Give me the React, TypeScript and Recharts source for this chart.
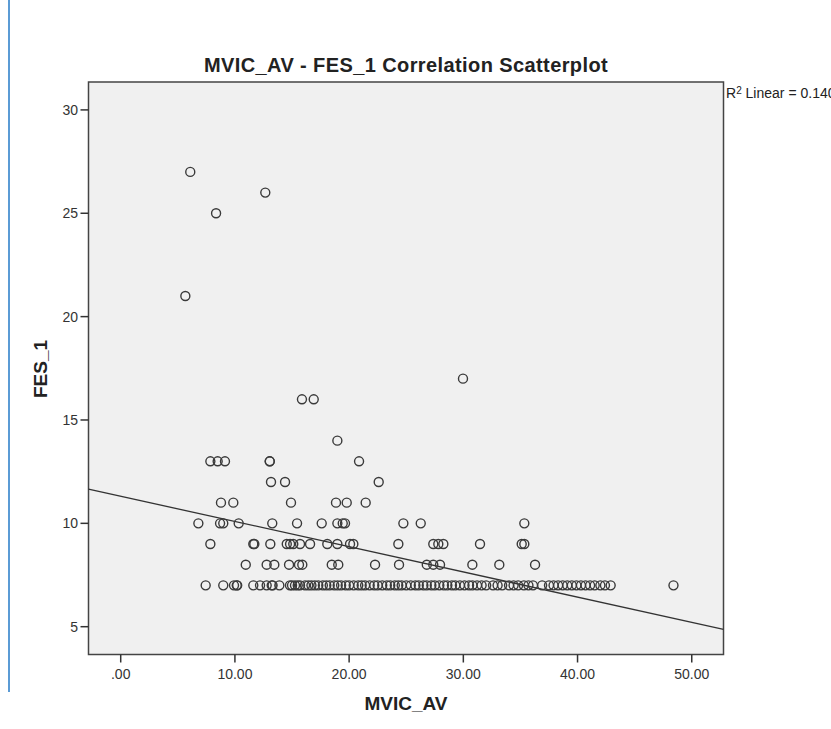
import * as React from "react"
import {
    ScatterChart,
    Scatter,
    XAxis,
    YAxis,
    ReferenceArea,
    ReferenceLine,
} from "recharts"

// MVIC_AV values for each FES_1 level
const fes27 = [6.09]
const fes26 = [12.66]
const fes25 = [8.35]
const fes21 = [5.66]
const fes17 = [29.97]
const fes16 = [15.87, 16.9]
const fes14 = [18.97]
const fes13 = [7.85, 8.49, 9.13, 13.05, 13.05, 20.87]
const fes12 = [13.16, 14.39, 22.59]
const fes11 = [8.78, 9.86, 14.91, 18.85, 19.79, 21.45]
const fes10 = [6.8, 8.7, 8.98, 10.33, 13.27, 15.44, 17.6, 18.97, 19.44, 19.64, 24.75, 26.27, 35.34]
const fes9 = [
    7.85, 11.61, 11.7, 13.1, 14.54, 14.83, 15.11, 15.7, 16.58, 18.09, 18.97, 20.08, 20.37,
    24.31, 27.37, 27.81, 28.25, 31.46, 35.11, 35.34,
]
const fes8 = [
    10.95, 12.78, 13.45, 14.74, 15.61, 15.9, 18.48, 19.05, 22.27, 24.37, 26.8, 27.37, 27.96,
    30.79, 33.15, 36.28,
]
const fes7 = [
    7.44, 8.98, 9.92, 10.16, 10.2, 11.61, 12.2, 12.78, 13.22, 13.3, 13.89, 14.82, 15.0, 15.26,
    15.5, 15.7, 16.14, 16.43, 16.7, 17.0, 17.3, 17.7, 18.0, 18.3, 18.7, 19.0, 19.3, 19.7, 20.0,
    20.4, 20.8, 21.1, 21.4, 21.8, 22.2, 22.5, 22.9, 23.3, 23.6, 24.0, 24.3, 24.6, 25.0, 25.4,
    25.8, 26.1, 26.5, 26.8, 27.2, 27.5, 27.9, 28.3, 28.6, 29.0, 29.3, 29.7, 30.1, 30.5, 30.8,
    31.2, 31.6, 32.0, 32.6, 33.0, 33.4, 34.0, 34.4, 34.8, 35.3, 35.7, 36.1, 36.9, 37.5, 37.9,
    38.3, 38.7, 39.1, 39.5, 39.9, 40.3, 40.7, 41.1, 41.5, 42.0, 42.4, 42.9, 48.4,
]

const levels: [number, number[]][] = [
    [27, fes27], [26, fes26], [25, fes25], [21, fes21], [17, fes17], [16, fes16],
    [14, fes14], [13, fes13], [12, fes12], [11, fes11], [10, fes10], [9, fes9],
    [8, fes8], [7, fes7],
]

const xTicks = [0, 10, 20, 30, 40, 50]
const yTicks = [5, 10, 15, 20, 25, 30]

const xDomain: [number, number] = [-2.82, 52.78]
const yDomain: [number, number] = [3.655, 31.35]

// linear fit shown in the chart
const fitIntercept = 11.31
const fitSlope = -0.122
const rSquared = "0.140"

const points = levels.flatMap(([fes, xs]) => xs.map((mvic) => ({ mvic, fes })))

const font = "'Liberation Sans', Arial, sans-serif"

const Ring = (props: any) => (
    <circle cx={props.cx} cy={props.cy} r={4.5} fill="none" stroke="#3a3a3a" strokeWidth={1.4} />
)

export default function App() {
    return (
        <div
            style={{
                position: "absolute",
                left: 0,
                top: 0,
                width: 831,
                height: 729,
                overflow: "hidden",
                background: "#fff",
                fontFamily: font,
                color: "#222",
            }}
        >
            <div style={{ position: "absolute", left: 8, top: 0, width: 2, height: 692, background: "#5b9bd5" }} />
            <ScatterChart
                width={831}
                height={729}
                margin={{ top: 82, right: 107.5, bottom: 44.5, left: 48.5 }}
                style={{ position: "absolute", left: 0, top: 0 }}
            >
                <ReferenceArea
                    x1={xDomain[0]}
                    x2={xDomain[1]}
                    y1={yDomain[0]}
                    y2={yDomain[1]}
                    fill="#f0f0f0"
                    fillOpacity={1}
                    stroke="#444"
                    strokeWidth={1.5}
                />
                <XAxis
                    type="number"
                    dataKey="mvic"
                    domain={xDomain}
                    ticks={xTicks}
                    allowDataOverflow
                    height={30}
                    axisLine={false}
                    tickSize={8}
                    tickMargin={7}
                    tickLine={{ stroke: "#333", strokeWidth: 1.5 }}
                    tick={{ fill: "#333", fontSize: 14, fontFamily: font }}
                    tickFormatter={(v: number) => (v === 0 ? ".00" : v.toFixed(2))}
                />
                <YAxis
                    type="number"
                    dataKey="fes"
                    domain={yDomain}
                    ticks={yTicks}
                    allowDataOverflow
                    width={40}
                    axisLine={false}
                    tickSize={8}
                    tickMargin={2.5}
                    tickLine={{ stroke: "#333", strokeWidth: 1.5 }}
                    tick={{ fill: "#333", fontSize: 14, fontFamily: font }}
                />
                <ReferenceLine
                    segment={[
                        { x: xDomain[0], y: fitIntercept + fitSlope * xDomain[0] },
                        { x: xDomain[1], y: fitIntercept + fitSlope * xDomain[1] },
                    ]}
                    stroke="#333"
                    strokeWidth={1.3}
                />
                <Scatter data={points} shape={Ring} isAnimationActive={false} />
            </ScatterChart>
            <div
                style={{
                    position: "absolute",
                    left: 406,
                    top: 55,
                    transform: "translateX(-50%)",
                    fontSize: 20,
                    lineHeight: "20px",
                    letterSpacing: 0.4,
                    fontWeight: "bold",
                    whiteSpace: "nowrap",
                }}
            >
                MVIC_AV - FES_1 Correlation Scatterplot
            </div>
            <div
                style={{
                    position: "absolute",
                    left: 726,
                    top: 86,
                    fontSize: 14,
                    lineHeight: "14px",
                    whiteSpace: "nowrap",
                }}
            >
                R<sup style={{ fontSize: 10, verticalAlign: "4px", lineHeight: 0 }}>2</sup> Linear = {rSquared}
            </div>
            <div
                style={{
                    position: "absolute",
                    left: 406,
                    top: 694,
                    transform: "translateX(-50%)",
                    fontSize: 19,
                    lineHeight: "19px",
                    fontWeight: "bold",
                    whiteSpace: "nowrap",
                }}
            >
                MVIC_AV
            </div>
            <div
                style={{
                    position: "absolute",
                    left: 40,
                    top: 369,
                    transform: "translate(-50%, -50%) rotate(-90deg)",
                    fontSize: 19,
                    lineHeight: "19px",
                    fontWeight: "bold",
                    whiteSpace: "nowrap",
                }}
            >
                FES_1
            </div>
        </div>
    )
}
